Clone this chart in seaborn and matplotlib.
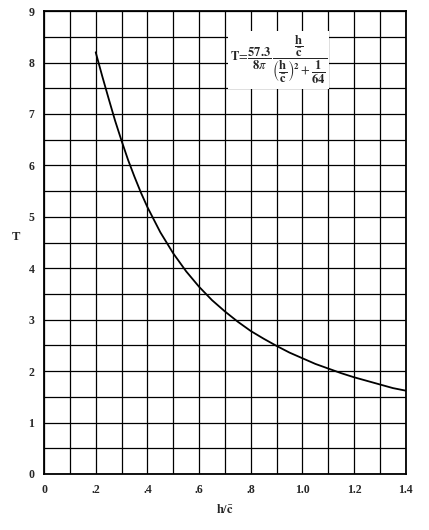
import matplotlib
matplotlib.use("Agg")
import matplotlib.pyplot as plt
import seaborn as sns
import pandas as pd

# curve
h_over_c = [0.2, 0.225, 0.25, 0.275, 0.3, 0.325, 0.35, 0.375, 0.4, 0.45, 0.5, 0.55, 0.6, 0.65,
            0.7, 0.75, 0.8, 0.85, 0.9, 0.95, 1.0, 1.05, 1.1, 1.15, 1.2, 1.25, 1.3, 1.35, 1.4]
T_vals = [8.20, 7.74, 7.30, 6.87, 6.48, 6.11, 5.78, 5.47, 5.19, 4.70, 4.29, 3.94, 3.64, 3.38,
          3.16, 2.96, 2.78, 2.63, 2.49, 2.36, 2.25, 2.14, 2.05, 1.96, 1.88, 1.81, 1.74, 1.67, 1.62]

x_ticks = [0, 0.2, 0.4, 0.6, 0.8, 1.0, 1.2, 1.4]
x_tick_labels = ["0", ".2", ".4", ".6", ".8", "1.0", "1.2", "1.4"]
y_ticks = list(range(0, 10))

df = pd.DataFrame({"h": h_over_c, "T": T_vals})

sns.set_style("white")
plt.rcParams['font.family'] = ['Liberation Serif', 'DejaVu Serif']
plt.rcParams['mathtext.fontset'] = 'stix'

fig = plt.figure(figsize=(4.29, 5.30), dpi=100)
ax = fig.add_axes([0.1026, 0.1057, 0.8434, 0.8733])

sns.lineplot(data=df, x="h", y="T", ax=ax, color="black", linewidth=1.3)

ax.set_xlim(0, 1.4)
ax.set_ylim(0, 9)
ax.set_xticks(x_ticks)
ax.set_xticklabels(x_tick_labels, fontweight="bold", fontsize=8.5)
ax.set_yticks(y_ticks)
ax.set_yticklabels([str(v) for v in y_ticks], fontweight="bold", fontsize=8.5)
ax.set_xticks([i / 10 for i in range(15)], minor=True)
ax.set_yticks([i / 2 for i in range(19)], minor=True)
ax.grid(which="both", color="black", linewidth=0.9)
ax.tick_params(axis="both", which="major", direction="out", length=4, width=1, color="black", pad=3)
ax.tick_params(axis="both", which="minor", length=0)
for s in ax.spines.values():
    s.set_color("black")
    s.set_linewidth(1.3)

ax.set_xlabel(r"h/$\bar{\mathbf{c}}$", fontweight="bold", fontsize=9, labelpad=5)
ax.set_ylabel("T", fontweight="bold", fontsize=9, rotation=0, labelpad=9)

ax.text(0.72, 8.05,
        r"$\mathbf{T}\!=\!\dfrac{\mathbf{57.3}}{\mathbf{8}\pi}\,"
        r"\dfrac{\dfrac{\mathbf{h}}{\bar{\mathbf{c}}}}"
        r"{\left(\dfrac{\mathbf{h}}{\bar{\mathbf{c}}}\right)^{\mathbf{2}}+\dfrac{\mathbf{1}}{\mathbf{64}}}$",
        fontsize=9, ha="left", va="center",
        bbox=dict(facecolor="white", edgecolor="none", pad=1.5))

fig.savefig("out.png", dpi=100)
